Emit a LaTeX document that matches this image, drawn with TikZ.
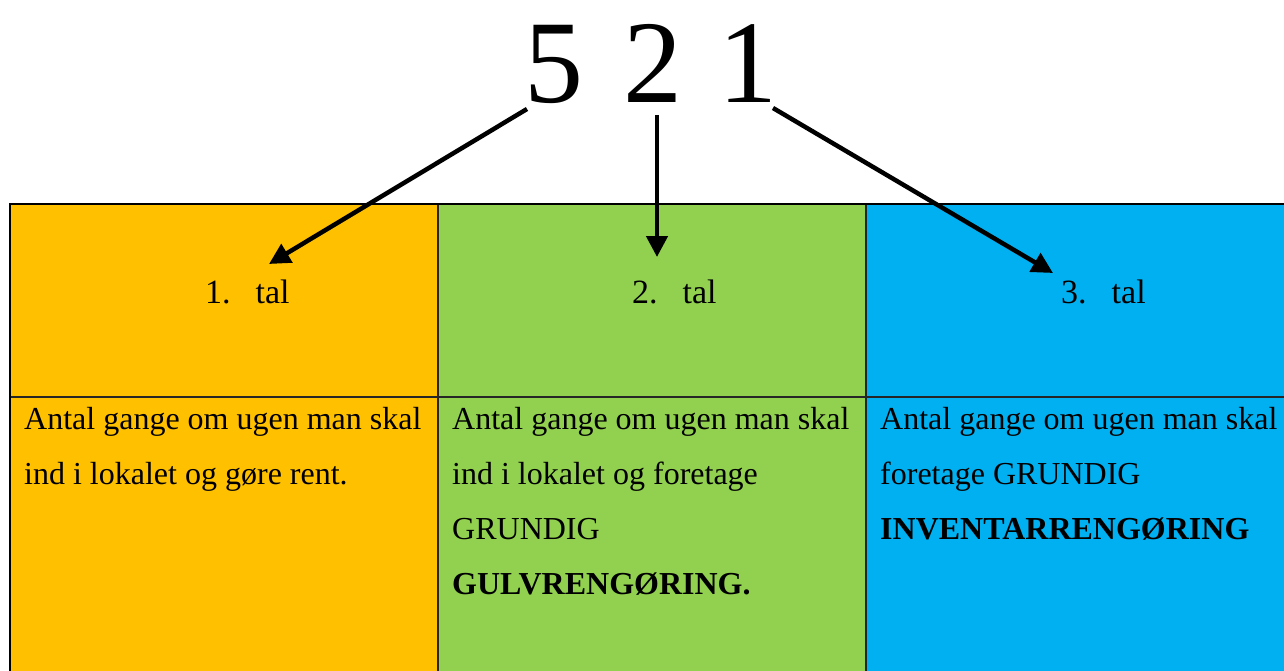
\documentclass[tikz,border=0pt]{standalone}
\usepackage{fontspec}
\setmainfont{Liberation Serif}
\usetikzlibrary{arrows.meta}
\definecolor{corange}{HTML}{FFC000}
\definecolor{cgreen}{HTML}{92D050}
\definecolor{cblue}{HTML}{00B0F0}
\tikzset{
  grid/.style={line width=1.3pt, black!85},
  border/.style={line width=2.5pt, black},
  pointer/.style={line width=4.5pt, -{Triangle[length=21pt, width=21pt]}},
  numtxt/.style={inner sep=0pt, anchor=base west, font=\fontsize{34}{40}\selectfont},
  bodytxt/.style={inner sep=0pt, anchor=north west, align=left, font=\fontsize{32}{55}\selectfont},
  bigtxt/.style={inner sep=0pt, anchor=base, font=\fontsize{118}{130}\selectfont}
}
\begin{document}
\begin{tikzpicture}[x=1pt, y=-1pt]
\useasboundingbox (0,0) rectangle (1284,671);
% cells
\fill[corange] (10,204) rectangle (438,671);
\fill[cgreen] (438,204) rectangle (866,671);
\fill[cblue] (866,204) rectangle (1284,671);
\draw[grid] (438,204) -- (438,671);
\draw[grid] (866,204) -- (866,671);
\draw[grid] (10,397) -- (1284,397);
\draw[border] (10,671) -- (10,204) -- (1284,204);
% big number
\node[bigtxt] (d5) at (554,103) {5};
\node[bigtxt] (d2) at (652.5,103) {2};
\node[bigtxt] (d1) at (748,103) {1};
\coordinate (s5) at (527,109);
\coordinate (s2) at (657,115);
\coordinate (s1) at (773,108);
\coordinate (t1) at (269,264);
\coordinate (t2) at (657,257);
\coordinate (t3) at (1053,273);
\draw[pointer] (s5) -- (t1);
\draw[pointer] (s2) -- (t2);
\draw[pointer] (s1) -- (t3);
% headers
\node[numtxt] (h1) at (205,303) {1.\hspace{25pt}tal};
\node[numtxt] (h2) at (632,303) {2.\hspace{25pt}tal};
\node[numtxt] (h3) at (1061,303) {3.\hspace{25pt}tal};
% body
\node[bodytxt] (b1) at (24,407) {Antal gange om ugen man skal\\ind i lokalet og gøre rent.};
\node[bodytxt] (b2) at (452,407) {Antal gange om ugen man skal\\ind i lokalet og foretage\\GRUNDIG\\\textbf{GULVRENGØRING.}};
\node[bodytxt] (b3) at (880,407) {Antal gange om ugen man skal\\foretage GRUNDIG\\\textbf{INVENTARRENGØRING}};
\end{tikzpicture}
\end{document}
